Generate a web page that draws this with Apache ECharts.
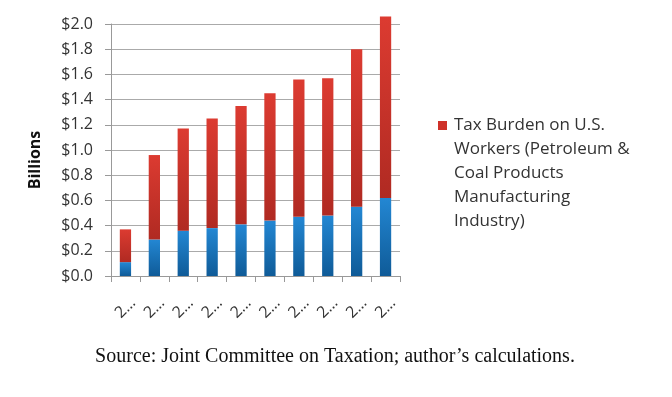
<!DOCTYPE html>
<html>
<head>
<meta charset="utf-8">
<script src="https://cdn.jsdelivr.net/npm/echarts@6/dist/echarts.min.js"></script>
<style>
  html, body { margin: 0; padding: 0; background: #fff; }
  #chart { width: 672px; height: 397px; }
</style>
</head>
<body>
<div id="chart"></div>
<script>
// years (labels are truncated to "2…" in the original)
var years = ['2001', '2002', '2003', '2004', '2005', '2006', '2007', '2008', '2009', '2010'];
// lower (blue) part of each bar, billions
var lowerPart = [0.11, 0.29, 0.36, 0.38, 0.41, 0.44, 0.47, 0.48, 0.55, 0.62];
// upper (red) part: tax burden on U.S. workers, billions
var taxBurden = [0.26, 0.67, 0.81, 0.87, 0.94, 1.01, 1.09, 1.09, 1.25, 1.44];
var yTicks = [0, 0.2, 0.4, 0.6, 0.8, 1.0, 1.2, 1.4, 1.6, 1.8, 2.0];

var legendName = 'Tax Burden on U.S. Workers (Petroleum & Coal Products Manufacturing Industry)';
var legendLines = ['Tax Burden on U.S.', 'Workers (Petroleum &', 'Coal Products', 'Manufacturing', 'Industry)'];

var baseFont = '"Open Sans", "Liberation Sans", sans-serif';

var chart = echarts.init(document.getElementById('chart'));

var redFill = new echarts.graphic.LinearGradient(0, 0, 0, 1, [
    { offset: 0, color: '#dc3b31' },
    { offset: 1, color: '#b02a22' }
]);
var blueFill = new echarts.graphic.LinearGradient(0, 0, 0, 1, [
    { offset: 0, color: '#2387d3' },
    { offset: 1, color: '#0f5b98' }
]);

var option = {
    backgroundColor: '#fff',
    animation: false,
    grid: {
        left: 111,
        right: 272,
        top: 24,
        bottom: 121
    },
    legend: {
        data: [legendName],
        left: 433,
        top: 117,
        padding: 0,
        icon: 'none',
        itemWidth: 0,
        itemGap: 0,
        selectedMode: false,
        formatter: function () {
            return legendLines.map(function (l, i) {
                return (i === 0 ? '{sq|}{gap|}' : '{ind|}') + '{t|' + l + '}';
            }).join('\n');
        },
        textStyle: {
            rich: {
                sq: { width: 9, height: 9, backgroundColor: '#cf3129' },
                gap: { width: 7 },
                ind: { width: 16 },
                t: { fontFamily: baseFont, fontSize: 17, color: '#333', lineHeight: 24 }
            }
        }
    },
    xAxis: {
        type: 'category',
        data: years,
        axisLine: { lineStyle: { color: '#999' } },
        axisTick: { show: true, length: 6, alignWithLabel: false, lineStyle: { color: '#999' } },
        axisLabel: {
            interval: 0,
            rotate: 45,
            margin: 32,
            align: 'center',
            verticalAlign: 'middle',
            width: 26,
            overflow: 'truncate',
            ellipsis: '…',
            fontFamily: baseFont,
            fontSize: 16,
            color: '#333'
        }
    },
    yAxis: {
        type: 'value',
        min: yTicks[0],
        max: yTicks[yTicks.length - 1],
        interval: 0.2,
        axisLine: { show: true, lineStyle: { color: '#999' } },
        axisTick: { show: true, length: 6, lineStyle: { color: '#999' } },
        splitLine: { lineStyle: { color: '#aaa', width: 1 } },
        axisLabel: {
            margin: 18,
            fontFamily: baseFont,
            fontSize: 16,
            color: '#333',
            formatter: function (v) { return '$' + v.toFixed(1); }
        }
    },
    series: [
        {
            name: 'Lower part',
            type: 'bar',
            stack: 'total',
            barWidth: '39%',
            clip: false,
            data: lowerPart,
            itemStyle: { color: blueFill }
        },
        {
            name: legendName,
            type: 'bar',
            stack: 'total',
            barWidth: '39%',
            clip: false,
            data: taxBurden,
            itemStyle: { color: redFill }
        }
    ],
    graphic: [
        {
            type: 'text',
            x: 35,
            y: 160,
            rotation: Math.PI / 2,
            style: {
                text: 'Billions',
                fontFamily: baseFont,
                fontSize: 16,
                fontWeight: 'bold',
                fill: '#111',
                align: 'center',
                verticalAlign: 'middle'
            }
        },
        {
            type: 'text',
            x: 335,
            y: 357,
            style: {
                text: 'Source: Joint Committee on Taxation; author\u2019s calculations.',
                fontFamily: '"Liberation Serif", "DejaVu Serif", serif',
                fontSize: 20,
                fill: '#111',
                align: 'center',
                verticalAlign: 'middle'
            }
        }
    ]
};

chart.setOption(option);
window.onresize = function () {
    chart.resize();
};
</script>
</body>
</html>
